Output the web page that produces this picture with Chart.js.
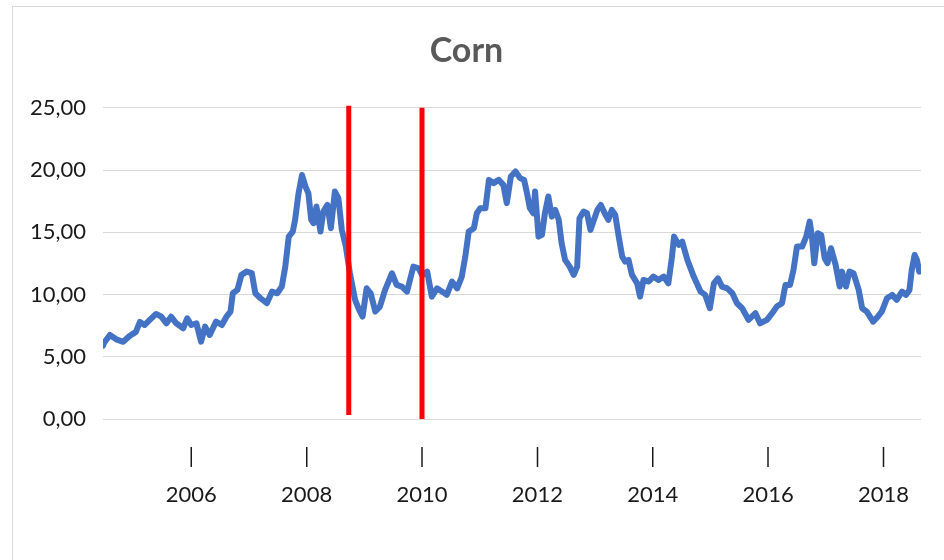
<!DOCTYPE html>
<html>
<head>
<meta charset="utf-8">
<script src="https://cdn.jsdelivr.net/npm/chart.js@4"></script>
<style>
  html, body { margin: 0; padding: 0; background: #ffffff; }
  #wrap { width: 944px; height: 560px; position: relative; }
</style>
</head>
<body>
<div id="wrap"><canvas id="c" width="944" height="560"></canvas></div>
<script>
const titleText = "Corn";
const tickYears = [2006, 2008, 2010, 2012, 2014, 2016, 2018];
const yTicks = [0, 5, 10, 15, 20, 25];
const xMin = 2004.47, xMax = 2018.65;

const years = [
 2004.47,2004.49,2004.59,2004.70,2004.82,2004.93,2005.04,2005.11,2005.19,2005.28,
 2005.39,2005.48,2005.57,2005.65,2005.74,2005.86,2005.93,2006.00,2006.09,2006.17,
 2006.24,2006.32,2006.43,2006.53,2006.61,2006.68,2006.72,2006.80,2006.87,2006.96,
 2007.05,2007.11,2007.20,2007.31,2007.40,2007.49,2007.57,2007.63,2007.69,2007.76,
 2007.80,2007.86,2007.92,2007.98,2008.03,2008.08,2008.12,2008.17,2008.24,2008.29,
 2008.36,2008.42,2008.49,2008.55,2008.61,2008.68,2008.75,2008.84,2008.91,2008.97,
 2009.04,2009.11,2009.19,2009.27,2009.36,2009.48,2009.56,2009.65,2009.74,2009.85,
 2009.94,2010.00,2010.09,2010.17,2010.26,2010.35,2010.43,2010.52,2010.61,2010.69,
 2010.75,2010.81,2010.90,2010.95,2011.01,2011.10,2011.16,2011.24,2011.33,2011.41,
 2011.47,2011.54,2011.62,2011.70,2011.77,2011.82,2011.87,2011.93,2011.96,2012.02,
 2012.08,2012.13,2012.19,2012.25,2012.31,2012.37,2012.42,2012.48,2012.56,2012.63,
 2012.69,2012.73,2012.80,2012.86,2012.92,2012.99,2013.04,2013.10,2013.18,2013.23,
 2013.29,2013.35,2013.41,2013.47,2013.52,2013.58,2013.64,2013.73,2013.78,2013.84,
 2013.93,2014.01,2014.10,2014.19,2014.27,2014.33,2014.37,2014.45,2014.51,2014.60,
 2014.71,2014.83,2014.91,2014.99,2015.06,2015.13,2015.20,2015.29,2015.38,2015.46,
 2015.55,2015.66,2015.78,2015.86,2015.98,2016.07,2016.15,2016.24,2016.30,2016.38,
 2016.44,2016.50,2016.59,2016.66,2016.72,2016.76,2016.80,2016.86,2016.92,2016.98,
 2017.03,2017.09,2017.17,2017.24,2017.28,2017.35,2017.41,2017.48,2017.57,2017.63,
 2017.71,2017.82,2017.90,2017.97,2018.06,2018.15,2018.23,2018.32,2018.39,2018.45,
 2018.49,2018.54,2018.58,2018.62
];
const cornPrices = [
 5.9,6.13,6.75,6.4,6.2,6.67,7.0,7.8,7.55,7.96,
 8.44,8.22,7.69,8.22,7.69,7.29,8.09,7.55,7.69,6.21,
 7.42,6.75,7.82,7.55,8.22,8.63,10.1,10.37,11.58,11.84,
 11.71,10.1,9.7,9.3,10.23,10.1,10.64,12.24,14.65,15.06,
 16.0,18.14,19.6,18.67,18.14,16.0,15.73,17.07,15.06,16.67,
 17.2,15.33,18.27,17.74,15.19,13.85,11.71,9.57,8.76,8.22,
 10.5,10.1,8.63,9.03,10.37,11.71,10.77,10.64,10.23,12.24,
 12.11,11.58,11.84,9.83,10.5,10.23,9.97,11.04,10.5,11.44,
 13.05,15.06,15.33,16.53,16.94,16.94,19.21,18.95,19.21,18.81,
 17.34,19.48,19.88,19.35,19.2,18.14,16.94,16.53,18.27,14.65,
 14.79,16.53,17.87,16.26,16.8,16.0,14.12,12.78,12.24,11.58,
 12.24,16.13,16.67,16.53,15.19,16.13,16.8,17.2,16.4,16.0,
 16.8,16.4,14.65,13.05,12.65,12.78,11.58,10.9,9.83,11.17,
 11.04,11.44,11.17,11.44,10.9,12.92,14.65,13.99,14.25,12.78,
 11.44,10.23,9.97,8.9,10.9,11.3,10.64,10.5,10.1,9.3,
 8.9,7.96,8.5,7.69,7.96,8.5,9.03,9.3,10.77,10.77,
 11.98,13.85,13.85,14.65,15.86,14.65,12.52,14.92,14.79,12.92,
 12.52,13.72,12.38,10.64,11.84,10.64,11.84,11.71,10.37,8.9,
 8.63,7.82,8.22,8.63,9.7,9.97,9.57,10.23,9.97,10.37,
 11.98,13.18,12.78,11.84
];
const marker1X = [2008.73, 2008.73];
const marker1Y = [0.32, 25.16];
const marker2X = [2010.00, 2010.00];
const marker2Y = [0, 25];

const toPts = (xs, ys) => xs.map((x, i) => ({ x: x, y: ys[i] }));

const frame = {
  id: 'frame',
  beforeDraw(chart) {
    const ctx = chart.ctx;
    ctx.save();
    ctx.fillStyle = '#ffffff';
    ctx.fillRect(0, 0, chart.width, chart.height);
    ctx.strokeStyle = '#d9d9d9';
    ctx.lineWidth = 1;
    ctx.strokeRect(12.5, 6.5, chart.width + 20, chart.height + 20);
    ctx.restore();
  }
};

const tickFont = { family: 'Lato, "Open Sans", sans-serif', size: 22, lineHeight: 1.78 };

new Chart(document.getElementById('c'), {
  type: 'line',
  data: {
    datasets: [
      { data: toPts(marker1X, marker1Y), borderColor: '#ff0000', borderWidth: 5, pointRadius: 0, clip: false, order: 1, borderCapStyle: 'butt' },
      { data: toPts(marker2X, marker2Y), borderColor: '#ff0000', borderWidth: 5, pointRadius: 0, clip: false, order: 1, borderCapStyle: 'butt' },
      { data: toPts(years, cornPrices), borderColor: '#4472c4', borderWidth: 6, pointRadius: 0, tension: 0, borderJoinStyle: 'round', borderCapStyle: 'round', order: 2 }
    ]
  },
  options: {
    responsive: false,
    animation: false,
    events: [],
    layout: { padding: { left: 12, right: 23, top: 14, bottom: 0 } },
    plugins: {
      legend: { display: false },
      tooltip: { enabled: false },
      title: {
        display: true,
        text: titleText,
        color: '#595959',
        font: { family: 'Lato, "Open Sans", sans-serif', size: 34, weight: 'bold', lineHeight: 1.2 },
        padding: { top: 17, bottom: 36 }
      }
    },
    scales: {
      x: {
        type: 'linear',
        min: xMin,
        max: xMax,
        border: { display: false },
        grid: { display: false, drawTicks: false },
        afterBuildTicks(scale) { scale.ticks = tickYears.map(v => ({ value: v })); },
        afterFit(scale) { scale.height = 141; },
        ticks: {
          autoSkip: false,
          maxRotation: 0,
          padding: 17,
          color: '#1a1a1a',
          font: tickFont,
          callback: (v) => ['|', String(v)]
        }
      },
      y: {
        min: 0,
        max: 25,
        border: { display: false },
        grid: { color: '#d9d9d9', lineWidth: 1, drawTicks: false },
        afterBuildTicks(scale) { scale.ticks = yTicks.map(v => ({ value: v })); },
        afterFit(scale) { scale.width = 91; },
        ticks: {
          padding: 17,
          color: '#1a1a1a',
          font: { family: 'Lato, "Open Sans", sans-serif', size: 22 },
          callback: (v) => Number(v).toFixed(2).replace('.', ',')
        }
      }
    }
  },
  plugins: [frame]
});
</script>
</body>
</html>
